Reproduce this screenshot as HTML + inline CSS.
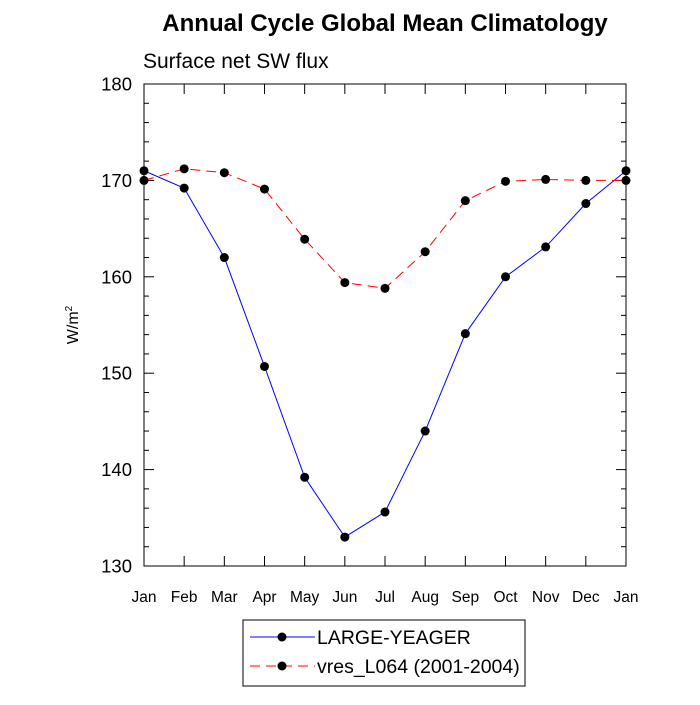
<!DOCTYPE html>
<html><head><meta charset="utf-8"><style>
body{margin:0;background:#fff;}
svg text{font-family:"Liberation Sans",sans-serif;}
</style></head><body>
<svg id="chart" width="700" height="700" xmlns="http://www.w3.org/2000/svg">
<text x="385" y="31" text-anchor="middle" font-size="24" font-weight="bold">Annual Cycle Global Mean Climatology</text>
<text x="143" y="68" font-size="21">Surface net SW flux</text>
<text transform="translate(78,325) rotate(-90)" text-anchor="middle" font-size="16">W/m<tspan dy="-6" font-size="10">2</tspan></text>
<g id="axes"></g>
<g id="series"></g>
<g id="legend">
<rect x="243" y="620" width="282" height="66" fill="#fff" stroke="#000" stroke-width="1"/>
<g>
<line x1="250" y1="637" x2="315" y2="637" stroke="#0000ff" stroke-width="1"/>
<circle cx="282" cy="637" r="4.5" fill="#000"/>
<text x="317" y="644" font-size="19.5">LARGE-YEAGER</text></g>
<g>
<line x1="250" y1="666" x2="315" y2="666" stroke="#ff0000" stroke-width="1" stroke-dasharray="10,6"/>
<circle cx="282" cy="666" r="4.5" fill="#000"/>
<text x="317" y="673" font-size="19.5">vres_L064 (2001-2004)</text></g>
</g>
</svg>
<script>
const months=["Jan","Feb","Mar","Apr","May","Jun","Jul","Aug","Sep","Oct","Nov","Dec","Jan"];
const largeYeager=[171,169.2,162,150.7,139.2,133,135.6,144,154.1,160,163.1,167.6,171];
const vresL064=[170,171.2,170.8,169.1,163.9,159.4,158.8,162.6,167.9,169.9,170.1,170,170];
const yTicks=[130,140,150,160,170,180];
const X0=144,X1=626,Y0=84,Y1=566,YMIN=130,YMAX=180;
const NS="http://www.w3.org/2000/svg";
const xs=i=>X0+(X1-X0)*i/(months.length-1);
const ys=v=>Y1-(v-YMIN)/(YMAX-YMIN)*(Y1-Y0);
function mk(tag,at,parent){const e=document.createElementNS(NS,tag);for(const k in at)e.setAttribute(k,at[k]);parent.appendChild(e);return e;}
const ax=document.getElementById('axes');
let f=mk('rect',{x:X0,y:Y0,width:X1-X0,height:Y1-Y0,fill:'none',stroke:'#000','stroke-width':1},ax);


for(let v=YMIN;v<=YMAX;v+=2){const y=ys(v);const L=(v%10===0)?10:5;
mk('line',{x1:X0,y1:y,x2:X0+L,y2:y,stroke:'#000'},ax);
mk('line',{x1:X1,y1:y,x2:X1-L,y2:y,stroke:'#000'},ax);}
yTicks.forEach(v=>{const t=mk('text',{x:X0-12,y:ys(v)+6.5,'text-anchor':'end','font-size':18.5},ax);t.textContent=v;

});
months.forEach((m,i)=>{const x=xs(i);
mk('line',{x1:x,y1:Y1,x2:x,y2:Y1-10,stroke:'#000'},ax);
mk('line',{x1:x,y1:Y0,x2:x,y2:Y0+10,stroke:'#000'},ax);
const t=mk('text',{x:x,y:Y1+36,'text-anchor':'middle','font-size':15.5},ax);t.textContent=m;

});
const sg=document.getElementById('series');
function draw(vals,color,dash,name){
const g=mk('g',{},sg);


const p=mk('polyline',{points:vals.map((v,i)=>xs(i)+','+ys(v)).join(' '),fill:'none',stroke:color,'stroke-width':1,'stroke-dasharray':dash},g);


vals.forEach((v,i)=>{const c=mk('circle',{cx:xs(i),cy:ys(v),r:4.5,fill:'#000'},g);

});}
draw(largeYeager,'#0000ff','none','series-large-yeager');
draw(vresL064,'#ff0000','10,6','series-vres-l064');
</script>
</body></html>
